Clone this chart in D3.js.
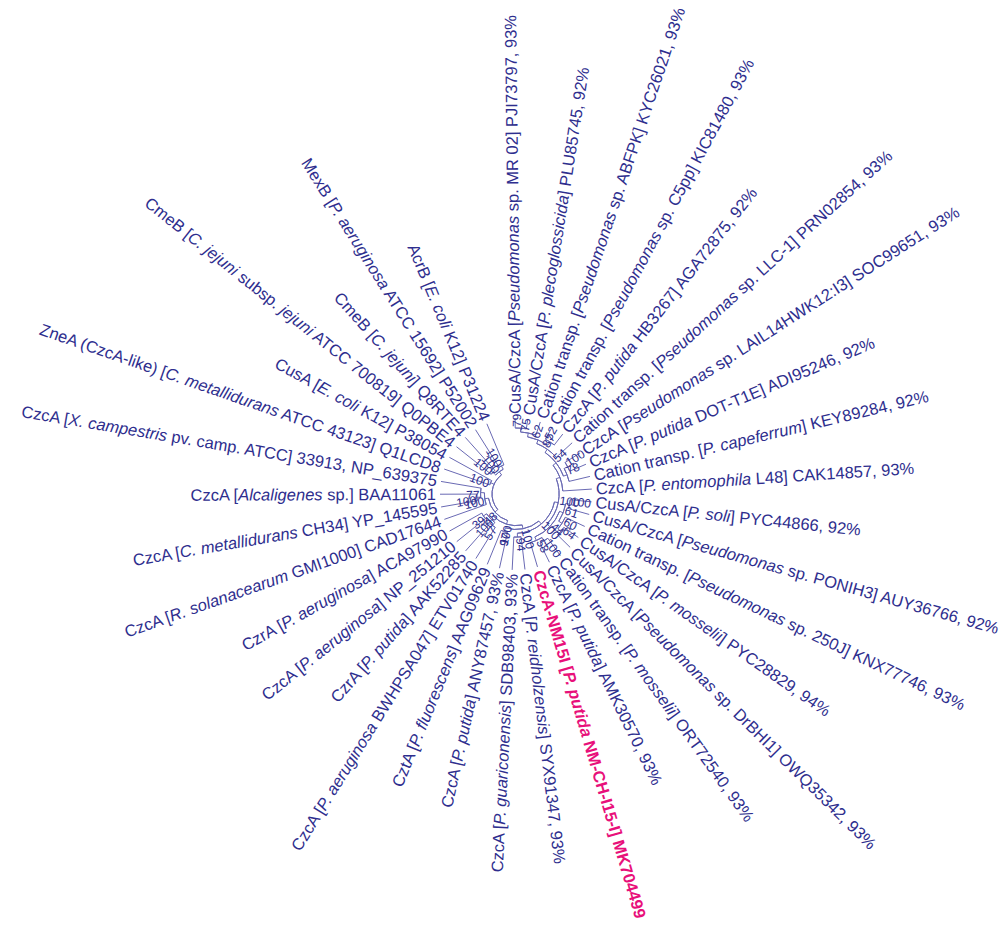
<!DOCTYPE html>
<html><head><meta charset="utf-8">
<script src="https://cdn.jsdelivr.net/npm/d3@7"></script>
<style>
html,body{margin:0;padding:0;background:#fff;}
svg{display:block;}
</style>
</head><body>
<svg id="chart" width="1000" height="934"></svg>
<script>
// ---- data ----
const leafLabels = [
"CusA/CzcA [<i>Pseudomonas</i> sp. MR 02] PJI73797, 93%",
"CusA/CzcA [<i>P. plecoglossicida</i>] PLU85745, 92%",
"Cation transp. [<i>Pseudomonas</i> sp. ABFPK] KYC26021, 93%",
"Cation transp. [<i>Pseudomonas</i> sp. C5pp] KIC81480, 93%",
"CzcA [<i>P. putida</i> HB3267] AGA72875, 92%",
"Cation transp. [<i>Pseudomonas</i> sp. LLC-1] PRN02854, 93%",
"CzcA [<i>Pseudomonas</i> sp. LAIL14HWK12:I3] SOC99651, 93%",
"CzcA [<i>P. putida</i> DOT-T1E] ADI95246, 92%",
"Cation transp. [<i>P. capeferrum</i>] KEY89284, 92%",
"CzcA [<i>P. entomophila</i> L48] CAK14857, 93%",
"CusA/CzcA [<i>P. soli</i>] PYC44866, 92%",
"CusA/CzcA [<i>Pseudomonas</i> sp. PONIH3] AUY36766, 92%",
"Cation transp. [<i>Pseudomonas</i> sp. 250J] KNX77746, 93%",
"CusA/CzcA [<i>P. mosselii</i>] PYC28829, 94%",
"CusA/CzcA [<i>Pseudomonas</i> sp. DrBHI1] OWQ35342, 93%",
"Cation transp. [<i>P. mosselii</i>] ORT72540, 93%",
"CzcA [<i>P. putida</i>] AMK30570, 93%",
"CzcA-NM15I [<i>P. putida</i> NM-CH-I15-I] MK704499",
"CzcA [<i>P. reidholzensis</i>] SYX91347, 93%",
"CzcA [<i>P. guariconensis</i>] SDB98403, 93%",
"CzcA [<i>P. putida</i>] ANY87457, 93%",
"CztA [<i>P. fluorescens</i>] AAG09629",
"CzcA [<i>P. aeruginosa</i> BWHPSA047] ETV01740",
"CzrA [<i>P. putida</i>] AAK52285",
"CzcA [<i>P. aeruginosa</i>] NP_251210",
"CzrA [<i>P. aeruginosa</i>] ACA97990",
"CzcA [<i>R. solanacearum</i> GMI1000] CAD17644",
"CzcA [<i>C. metallidurans</i> CH34] YP_145595",
"CzcA [<i>Alcaligenes</i> sp.] BAA11061",
"CzcA [<i>X. campestris</i> pv. camp. ATCC] 33913, NP_639375",
"ZneA (CzcA-like) [<i>C. metallidurans</i> ATCC 43123] Q1LCD8",
"CusA [<i>E. coli</i> K12] P38054",
"CmeB [<i>C. jejuni</i> subsp. <i>jejuni</i> ATCC 700819] Q0PBE4",
"CmeB [<i>C. jejuni</i>] Q8RTE4",
"MexB [<i>P. aeruginosa</i> ATCC 15692] P52002",
"AcrB [<i>E. coli</i> K12] P31224"
];
const highlightLeaves = [17];
// topology (leaf indices) with bootstrap support values, written clade by clade
const cladeUpperRight = "((((((0,1)79,2)75,(3,4)52)62,5)87,((6,7)100,8)78)54,9)";
const cladeLowerRight = "(((10,11)100,(12,(13,14)64)60)61,((15,16)100,17)58)44";
const cladeF = "(" + cladeUpperRight + "," + cladeLowerRight + ")100";
const cladeE = "(" + cladeF + ",(18,19)94)100";
const cladeD = "(" + cladeE + ",(20,21)97)100";
const cladeC = "(" + cladeD + ",((22,23)57,(24,25)39)100)100";
const cladeA = "(" + cladeC + ",(26,((27,28)100,29)77)100)48";
const newick = "(" + cladeA + ",(30,31)100,((32,33)100,(34,35)100)100)";

// ---- layout constants ----
const W = 1000, H = 934;
const cx = 516, cy = 494;
const arcSpan = 347.8;     // degrees used by leaves (gap at top between AcrB and MR 02)
const rotation = -95.5;    // degrees
const rLeaf = 76, rLabel = 80;
const lineColor = "#6a6ab4", textColor = "#2e2e8e", hiColor = "#e8107a";

function parseNewick(s){
  let i = 0;
  function node(){
    if (s[i] === "("){
      i++;
      const children = [];
      while (true){
        children.push(node());
        if (s[i] === ","){ i++; continue; }
        break;
      }
      i++; // ')'
      let lab = "";
      while (i < s.length && /[0-9]/.test(s[i])) lab += s[i++];
      return {children, support: lab};
    } else {
      let lab = "";
      while (/[0-9]/.test(s[i])) lab += s[i++];
      return {leaf: +lab};
    }
  }
  return node();
}

const root = d3.hierarchy(parseNewick(newick), d => d.children);
d3.cluster().size([arcSpan, 1]).separation(() => 1)(root);

const maxInner = d3.max(root.descendants().filter(d => d.children), d => d.depth);
const rScale = d3.scaleLinear().domain([0, maxInner]).range([24, 66]);
const angle = d => d.x + rotation;
const radius = d => d.children ? rScale(d.depth) : rLeaf;
const toRad = a => a * Math.PI / 180;
const pt = (a, r) => [cx + r * Math.cos(toRad(a)), cy + r * Math.sin(toRad(a))];
const isLeft = a => { const na = ((a % 360) + 360) % 360; return na > 90 && na < 265; };

const svg = d3.select("#chart");
const gLinks = svg.append("g").attr("fill", "none").attr("stroke", lineColor).attr("stroke-width", 1);

// radial segments
root.descendants().filter(d => d.parent).forEach(d => {
  const a = angle(d);
  const p0 = pt(a, radius(d.parent)), p1 = pt(a, radius(d));
  gLinks.append("line").attr("x1", p0[0]).attr("y1", p0[1]).attr("x2", p1[0]).attr("y2", p1[1]);
});
// arcs at internal nodes
const arcGen = d3.arc();
root.descendants().filter(d => d.children).forEach(d => {
  const a0 = angle(d.children[0]), a1 = angle(d.children[d.children.length - 1]);
  const r = radius(d);
  gLinks.append("path")
    .attr("transform", `translate(${cx},${cy})`)
    .attr("d", arcGen({innerRadius: r, outerRadius: r, startAngle: toRad(a0 + 90), endAngle: toRad(a1 + 90)}));
});

// bootstrap values
const gBoot = svg.append("g").attr("font-family", "Liberation Sans, Arial, sans-serif")
  .attr("font-size", 12).attr("fill", textColor);
root.descendants().filter(d => d.children && d.data.support).forEach(d => {
  const a = angle(d) - 3.5;
  const r = radius(d) + 1;
  const left = isLeft(a);
  gBoot.append("text")
    .attr("transform", `translate(${cx},${cy}) rotate(${a}) translate(${r},0)` + (left ? " rotate(180)" : ""))
    .attr("dy", "0.35em")
    .attr("text-anchor", left ? "end" : "start")
    .text(d.data.support);
});

// leaf labels
const gLab = svg.append("g").attr("font-family", "Liberation Sans, Arial, sans-serif").attr("font-size", 16.5);
root.leaves().forEach(d => {
  const a = angle(d);
  const left = isLeft(a);
  const hi = highlightLeaves.includes(d.data.leaf);
  const t = gLab.append("text")
    .attr("transform", `translate(${cx},${cy}) rotate(${a}) translate(${rLabel},0)` + (left ? " rotate(180)" : ""))
    .attr("dy", "0.35em")
    .attr("text-anchor", left ? "end" : "start")
    .attr("fill", hi ? hiColor : textColor)
    .attr("font-weight", hi ? "bold" : "normal");
  const parts = leafLabels[d.data.leaf].split(/(<i>|<\/i>)/);
  let italic = false;
  parts.forEach(p => {
    if (p === "<i>") { italic = true; return; }
    if (p === "</i>") { italic = false; return; }
    if (!p) return;
    t.append("tspan").attr("font-style", italic ? "italic" : "normal").text(p);
  });
});
</script>
</body></html>
